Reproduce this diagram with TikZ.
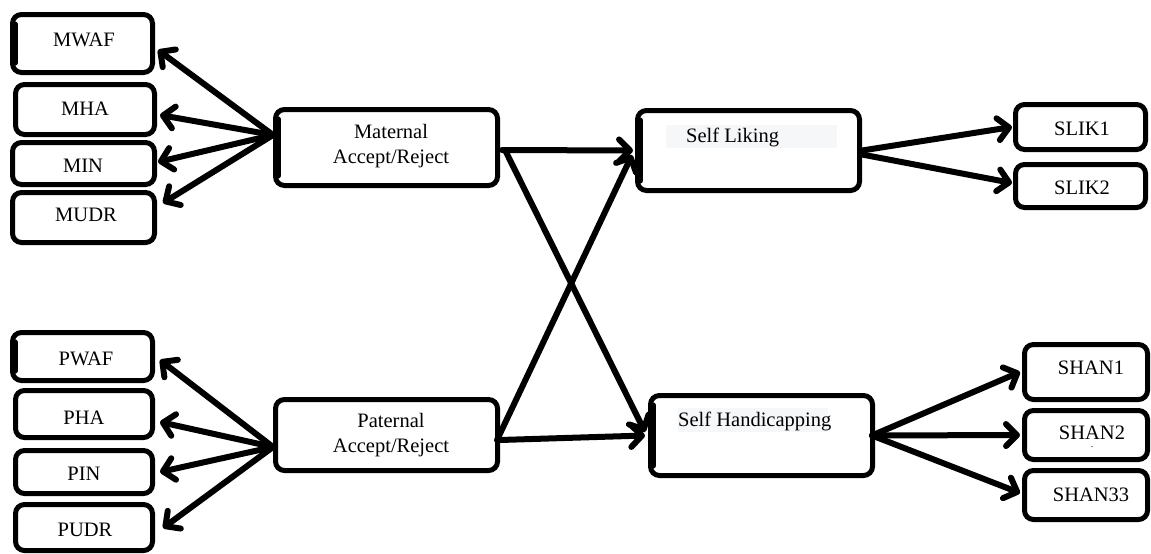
\documentclass[tikz,border=0pt]{standalone}
\usepackage{fontspec}
\setmainfont{Liberation Serif}
\usetikzlibrary{arrows.meta,calc}
\definecolor{txtbg}{HTML}{F6F7F9}
\begin{document}
\begin{tikzpicture}[x=1pt,y=-1pt,
  box/.style={draw, line width=5pt, rounded corners=9pt, inner sep=0pt, fill=white},
  lbl/.style={inner sep=0pt, font=\fontsize{20.5}{24.5}\selectfont},
  thick edge/.style={line width=5pt, line cap=round},
  arr/.style={line width=6pt, line cap=round, -{Straight Barb[length=11pt,width=22pt,round]}}]
\useasboundingbox (0,0) rectangle (1151,554);
% left maternal indicators
\node[box, minimum width=140pt, minimum height=58pt] (mwaf) at (82.5,43.5) {};
\node[box, minimum width=139pt, minimum height=50pt] (mha) at (85,109.5) {};
\node[box, minimum width=142pt, minimum height=42pt] (min) at (83.5,163.5) {};
\node[box, minimum width=142pt, minimum height=50pt] (mudr) at (83.5,217.5) {};
\draw[thick edge] ($(mwaf.north west)+(5,12)$) -- ($(mwaf.south west)+(5,-12)$);
\node[lbl] (mwaft) at (84,40) {MWAF};
\node[lbl] (mhat) at (85,109) {MHA};
\node[lbl] (mint) at (83,166) {MIN};
\node[lbl] (mudrt) at (86,215) {MUDR};
% left paternal indicators
\node[box, minimum width=140pt, minimum height=48pt] (pwaf) at (82.5,356.5) {};
\node[box, minimum width=137pt, minimum height=47pt] (pha) at (84,414) {};
\node[box, minimum width=137pt, minimum height=43pt] (pin) at (84,472) {};
\node[box, minimum width=137pt, minimum height=46pt] (pudr) at (84,527.5) {};
\draw[thick edge] ($(pwaf.north west)+(5,12)$) -- ($(pwaf.south west)+(5,-12)$);
\node[lbl] (pwaft) at (86,359) {PWAF};
\node[lbl] (phat) at (84,418) {PHA};
\node[lbl] (pint) at (84,474) {PIN};
\node[lbl] (pudrt) at (85,530) {PUDR};
% latent
\node[box, minimum width=222pt, minimum height=76pt] (mat) at (386.5,147.5) {};
\draw[thick edge] ($(mat.north west)+(5,12)$) -- ($(mat.south west)+(5,-12)$);
\node[lbl, align=center] (matt) at (391,146) {Maternal\\Accept/Reject};
\node[box, minimum width=222pt, minimum height=71pt] (pat) at (386.5,435) {};
\node[lbl, align=center] (patt) at (391,435) {Paternal\\Accept/Reject};
\node[box, minimum width=222pt, minimum height=80pt] (sl) at (748.5,150.5) {};
\draw[thick edge] ($(sl.north west)+(5,12)$) -- ($(sl.south west)+(5,-12)$);
\node[fill=txtbg, inner sep=0pt, minimum width=171pt, minimum height=23pt] (slbg) at (751.5,136.5) {};
\node[lbl, anchor=west] (slt) at (686,137) {Self Liking};
\node[box, minimum width=222pt, minimum height=80pt] (sh) at (761.5,435.5) {};
\draw[thick edge] ($(sh.north west)+(5,12)$) -- ($(sh.south west)+(5,-12)$);
\node[fill=txtbg, inner sep=0pt, minimum width=150pt, minimum height=24pt] (shbg) at (753,420) {};
\node[lbl, anchor=west] (sht) at (678,421) {Self Handicapping};
% right indicators
\node[box, minimum width=130pt, minimum height=45pt] (slik1) at (1080.5,127) {};
\node[box, minimum width=130pt, minimum height=43pt] (slik2) at (1080.5,186) {};
\node[lbl] (slik1t) at (1082,129) {SLIK1};
\node[lbl] (slik2t) at (1082,188) {SLIK2};
\node[box, minimum width=123pt, minimum height=55pt] (shan1) at (1086,372) {};
\node[box, minimum width=123pt, minimum height=49pt] (shan2) at (1086,435) {};
\node[box, minimum width=123pt, minimum height=49pt] (shan33) at (1086,495) {};
\node[lbl] (shan1t) at (1091,368) {SHAN1};
\node[lbl] (shan2t) at (1092,433) {SHAN2};
\node[inner sep=0pt, font=\fontsize{7}{7}\selectfont] (shan2dash) at (1092,448) {-};
\node[lbl] (shan33t) at (1091,495) {SHAN33};
% connectors
\coordinate (mo) at ($(mat.west)+(0,-12.5)$);
\coordinate (po) at ($(pat.west)+(0,12)$);
\draw[arr] (mo) -- ($(mwaf.east)+(3,6.5)$);
\draw[arr] (mo) -- ($(mha.east)+(3,5.5)$);
\draw[arr] (mo) -- ($(min.east)+(1,-1.5)$);
\draw[arr] (mo) -- ($(mudr.east)+(6,-14.5)$);
\draw[arr] (po) -- ($(pwaf.east)+(5,3.5)$);
\draw[arr] (po) -- ($(pha.east)+(5,8)$);
\draw[arr] (po) -- ($(pin.east)+(5,0)$);
\draw[arr] (po) -- ($(pudr.east)+(8,0.5)$);
\draw[arr] ($(mat.east)+(2,2.5)$) -- ($(sl.west)+(-2,0)$);
\draw[arr] ($(pat.east)+(-3,5)$) -- ($(sl.west)+(-3,4.5)$);
\draw[arr] ($(mat.east)+(5,2.5)$) -- ($(sh.west)+(-3,-3.5)$);
\draw[arr] ($(pat.east)+(0,5)$) -- ($(sh.west)+(-3,0)$);
\draw[arr] ($(sl.east)+(0,0)$) -- ($(slik1.west)+(-1,0)$);
\draw[arr] ($(sl.east)+(0,4)$) -- ($(slik2.west)+(-1,-3)$);
\coordinate (ho) at ($(sh.east)+(-3,0)$);
\draw[arr] (ho) -- ($(shan1.west)+(-2,0)$);
\draw[arr] (ho) -- ($(shan2.west)+(-2,0)$);
\draw[arr] (ho) -- ($(shan33.west)+(-2,-2)$);
\end{tikzpicture}
\end{document}
